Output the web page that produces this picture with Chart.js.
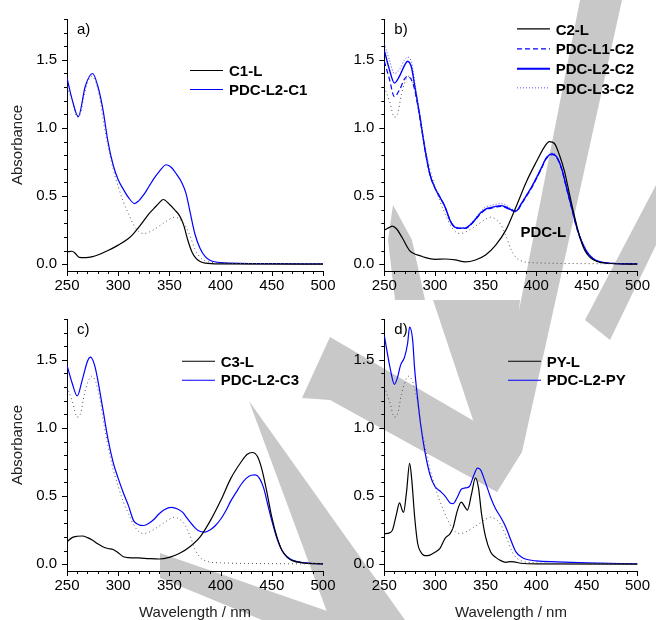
<!DOCTYPE html>
<html>
<head>
<meta charset="utf-8">
<script src="https://cdn.jsdelivr.net/npm/chart.js@4.4.1/dist/chart.umd.min.js"></script>
<style>
  body { margin: 0; background: #fff; }
  #figure { position: relative; width: 656px; height: 620px; overflow: hidden; }
  #figure canvas { position: absolute; }
  .legend {
    position: absolute;
    font: bold 15px "Liberation Sans", Arial, sans-serif;
    color: #000;
  }
  .legend .row { display: flex; align-items: center; white-space: nowrap; }
  .legend svg { display: block; }
  .legend span { margin-left: 6px; line-height: 1; }
</style>
</head>
<body>
<div id="figure">
  <canvas id="stamp" width="656" height="620" style="left:0;top:0"></canvas>
  <canvas id="panelA" width="345" height="300" style="left:0;top:0"></canvas>
  <canvas id="panelB" width="330" height="300" style="left:326px;top:0"></canvas>
  <canvas id="panelC" width="345" height="322" style="left:0;top:300px"></canvas>
  <canvas id="panelD" width="330" height="322" style="left:326px;top:300px"></canvas>
</div>
<script>
// axis ticks
const wlTicks = [250, 300, 350, 400, 450, 500];
const absTicks = [0, 0.5, 1.0, 1.5];

// free ligand PDC-L, shown dotted in every panel
const wlPdcL = [250, 255, 260, 263, 267, 270, 274, 278, 282, 286, 290, 295, 300, 305, 310, 315, 320, 325, 330, 335, 340, 345, 350, 355, 360, 365, 370, 375, 380, 385, 390, 400, 450, 500];
const absPdcL = [1.30, 1.20, 1.08, 1.10, 1.25, 1.33, 1.38, 1.34, 1.22, 1.03, 0.87, 0.70, 0.57, 0.46, 0.37, 0.29, 0.24, 0.225, 0.235, 0.255, 0.28, 0.305, 0.33, 0.345, 0.33, 0.29, 0.21, 0.11, 0.05, 0.025, 0.015, 0.01, 0.004, 0.002];

// a) C1
const wlC1L = [250, 255, 258, 262, 268, 275, 280, 290, 300, 310, 315, 320, 325, 330, 335, 340, 344, 350, 355, 360, 364, 368, 372, 376, 380, 385, 400, 500];
const absC1L = [0.09, 0.095, 0.08, 0.05, 0.048, 0.055, 0.067, 0.10, 0.14, 0.188, 0.225, 0.27, 0.32, 0.37, 0.41, 0.45, 0.475, 0.44, 0.40, 0.355, 0.285, 0.176, 0.09, 0.043, 0.02, 0.008, 0.002, 0];
const wlPdcL2C1 = [250, 255, 261, 268, 275, 280, 285, 290, 295, 300, 305, 310, 316, 320, 325, 330, 335, 340, 347, 352, 357, 362, 366, 370, 375, 380, 385, 390, 400, 450, 500];
const absPdcL2C1 = [1.368, 1.21, 1.083, 1.31, 1.40, 1.31, 1.14, 0.90, 0.73, 0.62, 0.55, 0.49, 0.445, 0.465, 0.51, 0.57, 0.63, 0.68, 0.73, 0.71, 0.66, 0.60, 0.525, 0.39, 0.22, 0.115, 0.055, 0.027, 0.012, 0.004, 0.002];

// b) C2
const wlC2L = [250, 255, 258, 262, 268, 275, 280, 285, 290, 300, 310, 320, 330, 340, 350, 360, 370, 380, 390, 400, 408, 413, 418, 423, 428, 433, 438, 443, 448, 453, 460, 470, 500];
const absC2L = [0.25, 0.27, 0.28, 0.26, 0.19, 0.10, 0.075, 0.063, 0.05, 0.036, 0.038, 0.031, 0.017, 0.031, 0.067, 0.14, 0.25, 0.42, 0.60, 0.75, 0.86, 0.90, 0.886, 0.80, 0.68, 0.51, 0.345, 0.20, 0.10, 0.05, 0.02, 0.007, 0];
const wlC2Series = [250, 255, 260, 265, 270, 273, 277, 280, 285, 290, 295, 300, 305, 310, 315, 320, 325, 330, 335, 340, 345, 350, 355, 360, 365, 370, 375, 380, 385, 390, 395, 400, 405, 410, 416, 420, 425, 430, 435, 440, 445, 450, 455, 460, 470, 500];
const absPdcL1C2 = [1.49, 1.36, 1.23, 1.28, 1.36, 1.38, 1.35, 1.28, 1.08, 0.85, 0.66, 0.56, 0.49, 0.42, 0.32, 0.27, 0.262, 0.262, 0.287, 0.327, 0.37, 0.40, 0.41, 0.42, 0.425, 0.415, 0.395, 0.385, 0.435, 0.495, 0.555, 0.625, 0.70, 0.775, 0.805, 0.785, 0.70, 0.555, 0.41, 0.265, 0.16, 0.088, 0.047, 0.023, 0.008, 0.002];
const absPdcL2C2 = [1.57, 1.43, 1.33, 1.38, 1.46, 1.49, 1.44, 1.31, 1.09, 0.85, 0.66, 0.56, 0.49, 0.42, 0.32, 0.27, 0.265, 0.265, 0.29, 0.33, 0.375, 0.405, 0.415, 0.424, 0.43, 0.42, 0.40, 0.39, 0.44, 0.50, 0.56, 0.63, 0.705, 0.78, 0.81, 0.79, 0.705, 0.56, 0.415, 0.27, 0.164, 0.09, 0.048, 0.024, 0.008, 0.002];
const absPdcL3C2 = [1.62, 1.50, 1.40, 1.43, 1.50, 1.52, 1.48, 1.34, 1.11, 0.87, 0.67, 0.565, 0.495, 0.425, 0.325, 0.275, 0.27, 0.27, 0.295, 0.34, 0.385, 0.42, 0.43, 0.44, 0.445, 0.435, 0.41, 0.395, 0.445, 0.505, 0.565, 0.635, 0.71, 0.785, 0.815, 0.795, 0.715, 0.57, 0.43, 0.285, 0.178, 0.10, 0.055, 0.028, 0.01, 0.003];

// c) C3
const wlC3L = [250, 255, 260, 265, 270, 275, 280, 285, 290, 295, 300, 305, 310, 320, 330, 340, 350, 360, 370, 380, 390, 400, 410, 420, 426, 431, 436, 440, 445, 450, 455, 460, 465, 470, 480, 500];
const absC3L = [0.165, 0.195, 0.205, 0.207, 0.195, 0.175, 0.15, 0.128, 0.115, 0.108, 0.084, 0.055, 0.048, 0.046, 0.041, 0.038, 0.05, 0.08, 0.128, 0.20, 0.32, 0.465, 0.63, 0.75, 0.807, 0.82, 0.79, 0.705, 0.537, 0.345, 0.20, 0.10, 0.05, 0.026, 0.01, 0.002];
const wlPdcL2C3 = [250, 255, 260, 265, 270, 273, 277, 280, 285, 290, 295, 300, 305, 310, 315, 320, 325, 330, 335, 340, 345, 352, 358, 363, 368, 373, 378, 385, 390, 395, 400, 405, 410, 415, 420, 425, 430, 434, 438, 442, 446, 450, 455, 460, 465, 470, 480, 500];
const absPdcL2C3 = [1.46, 1.33, 1.235, 1.355, 1.49, 1.52, 1.46, 1.355, 1.14, 0.92, 0.75, 0.63, 0.525, 0.43, 0.32, 0.29, 0.284, 0.30, 0.33, 0.37, 0.40, 0.417, 0.405, 0.38, 0.33, 0.284, 0.248, 0.236, 0.253, 0.284, 0.33, 0.39, 0.465, 0.525, 0.585, 0.63, 0.653, 0.655, 0.63, 0.56, 0.44, 0.32, 0.19, 0.10, 0.055, 0.03, 0.012, 0.002];

// d) PY
const wlPyL = [250, 255, 258, 262, 265, 268, 269, 272, 275, 277, 280, 283, 286, 290, 295, 300, 305, 310, 315, 318, 322, 326, 330, 332, 336, 340, 343, 346, 350, 355, 360, 365, 370, 375, 378, 385, 400, 500];
const absPyL = [0.224, 0.23, 0.25, 0.368, 0.45, 0.39, 0.38, 0.535, 0.74, 0.63, 0.345, 0.15, 0.09, 0.063, 0.067, 0.087, 0.116, 0.19, 0.224, 0.27, 0.39, 0.455, 0.416, 0.397, 0.51, 0.633, 0.56, 0.37, 0.20, 0.09, 0.05, 0.026, 0.014, 0.019, 0.017, 0.007, 0.002, 0];
const wlPdcL2Py = [250, 253, 256, 260, 263, 266, 270, 273, 275, 278, 280, 283, 286, 290, 295, 300, 305, 310, 315, 318, 322, 326, 330, 334, 338, 342, 345, 350, 355, 360, 365, 370, 375, 380, 385, 390, 400, 420, 450, 500];
const absPdcL2Py = [1.68, 1.55, 1.43, 1.32, 1.37, 1.46, 1.52, 1.62, 1.74, 1.645, 1.43, 1.21, 1.02, 0.83, 0.66, 0.57, 0.537, 0.50, 0.45, 0.445, 0.49, 0.55, 0.56, 0.57, 0.645, 0.705, 0.693, 0.597, 0.49, 0.405, 0.344, 0.272, 0.176, 0.09, 0.055, 0.036, 0.024, 0.017, 0.01, 0.003];

const BLUE = '#0000ff';
const BLACK = '#000000';
const FONT = '"Liberation Sans", Arial, sans-serif';
const SVG_NS = 'http://www.w3.org/2000/svg';

// light-grey page stamp that sits behind the four panels
const stampShapes = [
  [[249, 401], [405, 620], [330, 620]],
  [[160, 553], [330, 612], [330, 620], [262, 620], [160, 578]],
  [[302, 398], [330, 337], [515, 445], [497, 492], [330, 400]],
  [[580, 0], [622, 0], [522, 452], [497, 492], [488, 468]],
  [[433, 300], [520, 300], [505, 470], [497, 492]],
  [[393, 205], [412, 240], [425, 300], [395, 300], [388, 240]],
  [[656, 185], [656, 245], [610, 340], [585, 320]],
];

function drawStamp() {
  const ctx = document.getElementById('stamp').getContext('2d');
  ctx.fillStyle = '#c8c8c8';
  stampShapes.forEach((shape) => {
    ctx.beginPath();
    shape.forEach(([px, py], i) => (i ? ctx.lineTo(px, py) : ctx.moveTo(px, py)));
    ctx.closePath();
    ctx.fill();
  });
}

Chart.defaults.font.family = FONT;
Chart.defaults.font.size = 15;
Chart.defaults.color = '#000';
Chart.defaults.animation = false;

function points(wl, abs) {
  return wl.map((x, i) => ({ x, y: abs[i] }));
}

function line(label, wl, abs, color, extra) {
  return Object.assign({
    label,
    data: points(wl, abs),
    borderColor: color,
    borderWidth: 1.2,
    borderDash: [],
    pointRadius: 0,
    fill: false,
    cubicInterpolationMode: 'monotone',
    legendWidth: 1.2,
    inLegend: true,
  }, extra || {});
}

function ligandLine() {
  return line('PDC-L', wlPdcL, absPdcL, '#555', { borderWidth: 1, borderDash: [1, 3], inLegend: false });
}

// minor/major tick marks on both axes
const axisTicks = {
  id: 'axisTicks',
  afterDraw(chart) {
    const { ctx, chartArea } = chart;
    const { x, y } = chart.scales;
    ctx.save();
    ctx.strokeStyle = '#000';
    ctx.lineWidth = 1;
    ctx.setLineDash([]);
    ctx.beginPath();
    for (let v = 250; v <= 500; v += 10) {
      const px = Math.round(x.getPixelForValue(v)) + 0.5;
      const len = v % 50 === 0 ? 5 : 3;
      ctx.moveTo(px, chartArea.bottom);
      ctx.lineTo(px, chartArea.bottom + len);
    }
    for (let i = 0; i <= 18; i++) {
      const py = Math.round(y.getPixelForValue(i / 10)) + 0.5;
      const len = i % 5 === 0 ? 5 : 3;
      ctx.moveTo(chartArea.left, py);
      ctx.lineTo(chartArea.left - len, py);
    }
    ctx.stroke();
    ctx.restore();
  }
};

// panel letter and free-standing notes
const panelText = {
  id: 'panelText',
  afterDraw(chart, args, opts) {
    const { ctx, chartArea } = chart;
    const { x, y } = chart.scales;
    ctx.save();
    ctx.fillStyle = '#000';
    ctx.textBaseline = 'middle';
    ctx.font = '15px ' + FONT;
    ctx.fillText(opts.letter, chartArea.left + 10, chartArea.top + 11);
    ctx.textAlign = 'center';
    ctx.font = 'bold 15px ' + FONT;
    (opts.notes || []).forEach((n) => {
      ctx.fillText(n.text, x.getPixelForValue(n.x), y.getPixelForValue(n.y));
    });
    ctx.restore();
  }
};

// legend as html rows next to the plot: line sample + bold label
function buildLegend(chart, left, top, rowGap) {
  const box = document.createElement('div');
  box.className = 'legend';
  box.style.left = left + 'px';
  box.style.top = top + 'px';
  chart.data.datasets.filter((ds) => ds.inLegend).forEach((ds) => {
    const row = document.createElement('div');
    row.className = 'row';
    row.style.height = rowGap + 'px';

    const svg = document.createElementNS(SVG_NS, 'svg');
    svg.setAttribute('width', 33);
    svg.setAttribute('height', rowGap);
    const key = document.createElementNS(SVG_NS, 'line');
    const mid = rowGap / 2;
    key.setAttribute('x1', 0);
    key.setAttribute('x2', 33);
    key.setAttribute('y1', mid);
    key.setAttribute('y2', mid);
    key.setAttribute('stroke', ds.borderColor);
    key.setAttribute('stroke-width', ds.legendWidth);
    if (ds.borderDash.length) key.setAttribute('stroke-dasharray', ds.borderDash.join(' '));
    svg.appendChild(key);

    const label = document.createElement('span');
    label.textContent = ds.label;
    row.appendChild(svg);
    row.appendChild(label);
    box.appendChild(row);
  });
  document.getElementById('figure').appendChild(box);
}

function makeChart(id, datasets, cfg) {
  const chart = new Chart(document.getElementById(id), {
    type: 'line',
    data: { datasets },
    options: {
      responsive: false,
      layout: { padding: { top: 15, right: cfg.padRight, left: 0, bottom: 0 } },
      plugins: {
        legend: { display: false },
        tooltip: { enabled: false },
        colors: { enabled: false },
        panelText: cfg.text,
      },
      scales: {
        x: {
          type: 'linear',
          min: 250,
          max: 500,
          afterBuildTicks(scale) { scale.ticks = wlTicks.map((value) => ({ value })); },
          afterFit(scale) { scale.height = cfg.xHeight; },
          ticks: { padding: 6, maxRotation: 0, autoSkip: false },
          grid: { display: false, drawTicks: false },
          border: { display: true, color: '#000', width: 1 },
          title: {
            display: cfg.xTitle,
            text: 'Wavelength / nm',
            color: '#222',
            font: { size: 15 },
            padding: { top: 0, bottom: 0 },
          },
        },
        y: {
          min: -0.05,
          max: 1.8,
          afterBuildTicks(scale) { scale.ticks = absTicks.map((value) => ({ value })); },
          afterFit(scale) { scale.width = cfg.yWidth; },
          ticks: { padding: 10, callback: (v) => v.toFixed(1) },
          grid: { display: false, drawTicks: false },
          border: { display: true, color: '#000', width: 1 },
          title: {
            display: cfg.yTitle,
            text: 'Absorbance',
            color: '#222',
            font: { size: 15 },
            padding: { top: 9, bottom: 0 },
          },
        },
      },
    },
    plugins: [axisTicks, panelText],
  });
  const lg = cfg.legend;
  buildLegend(chart, lg.left, lg.top, lg.rowGap);
  return chart;
}

drawStamp();

makeChart('panelA', [
  ligandLine(),
  line('C1-L', wlC1L, absC1L, BLACK),
  line('PDC-L2-C1', wlPdcL2C1, absPdcL2C1, BLUE),
], {
  padRight: 22, xHeight: 29, yWidth: 67, xTitle: false, yTitle: true,
  text: { letter: 'a)' },
  legend: { left: 190, top: 60.5, rowGap: 19 },
});

makeChart('panelB', [
  ligandLine(),
  line('C2-L', wlC2L, absC2L, BLACK),
  line('PDC-L1-C2', wlC2Series, absPdcL1C2, BLUE, { borderDash: [5, 3] }),
  line('PDC-L2-C2', wlC2Series, absPdcL2C2, BLUE, { borderWidth: 1.4, legendWidth: 2 }),
  line('PDC-L3-C2', wlC2Series, absPdcL3C2, '#5050ff', { borderWidth: 1, legendWidth: 1, borderDash: [1, 2] }),
], {
  padRight: 15.7, xHeight: 29, yWidth: 58.3, xTitle: false, yTitle: false,
  text: { letter: 'b)', notes: [{ text: 'PDC-L', x: 407, y: 0.233 }] },
  legend: { left: 516.7, top: 19.2, rowGap: 19.7 },
});

makeChart('panelC', [
  ligandLine(),
  line('C3-L', wlC3L, absC3L, BLACK),
  line('PDC-L2-C3', wlPdcL2C3, absPdcL2C3, BLUE),
], {
  padRight: 22, xHeight: 51, yWidth: 67, xTitle: true, yTitle: true,
  text: { letter: 'c)' },
  legend: { left: 181.7, top: 352, rowGap: 18.5 },
});

makeChart('panelD', [
  ligandLine(),
  line('PY-L', wlPyL, absPyL, BLACK),
  line('PDC-L2-PY', wlPdcL2Py, absPdcL2Py, BLUE),
], {
  padRight: 15.7, xHeight: 51, yWidth: 58.3, xTitle: true, yTitle: false,
  text: { letter: 'd)' },
  legend: { left: 507.7, top: 352, rowGap: 18.5 },
});
</script>
</body>
</html>
